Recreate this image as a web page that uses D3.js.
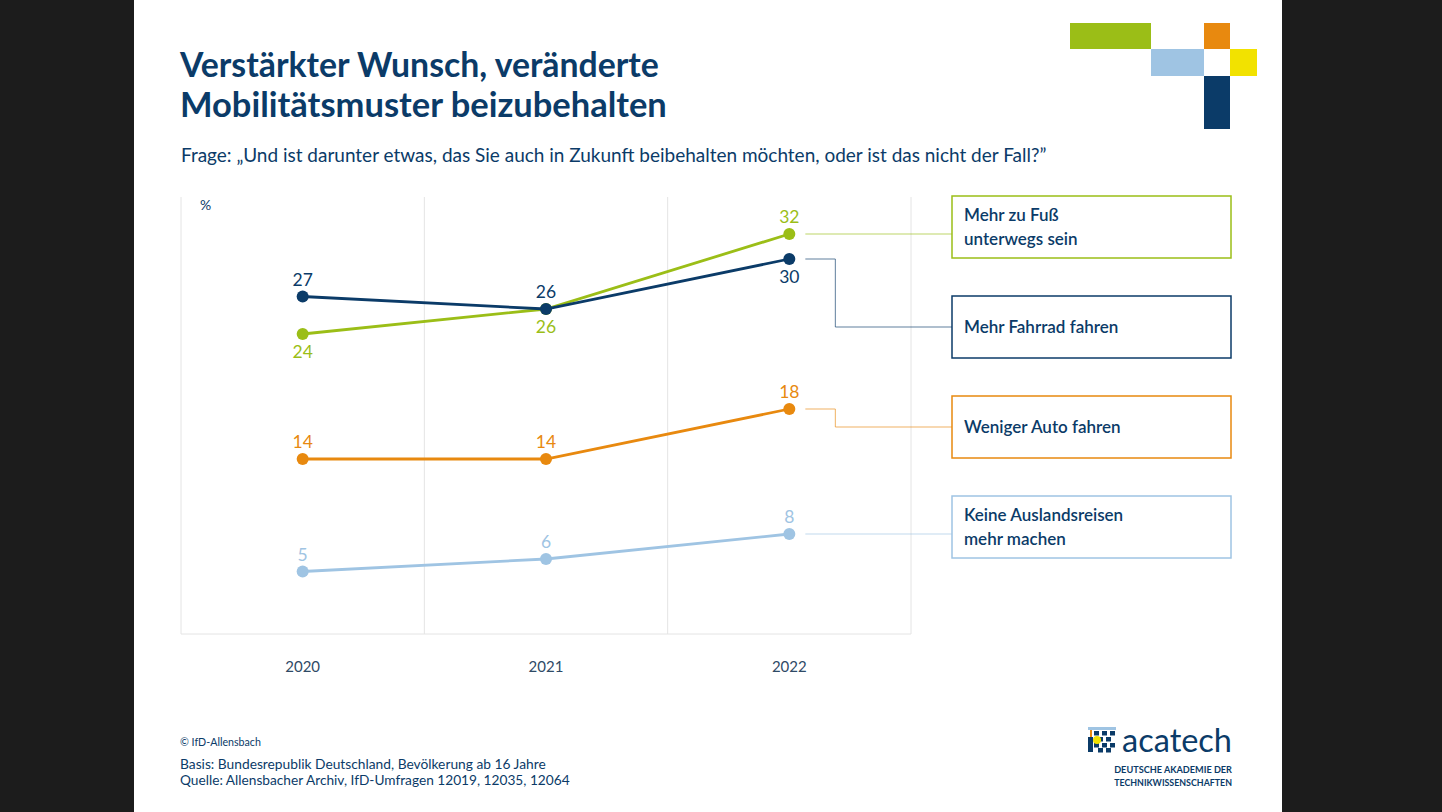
<!DOCTYPE html>
<html>
<head>
<meta charset="utf-8">
<script src="https://cdn.jsdelivr.net/npm/d3@7"></script>
<style>
    body { margin: 0; background: #1c1c1c; }
    svg { display: block; }
    text { font-family: Lato, "Open Sans", sans-serif; }
</style>
</head>
<body>
<svg id="chart" width="1442" height="812"></svg>
<script>
// Daten (IfD-Allensbach, Anteil in %)
var years = ['2020', '2021', '2022'];
var seriesNames = ['Mehr zu Fuß|unterwegs sein', 'Mehr Fahrrad fahren', 'Weniger Auto fahren', 'Keine Auslandsreisen|mehr machen'];
var fussValues = [24, 26, 32];
var fahrradValues = [27, 26, 30];
var autoValues = [14, 14, 18];
var auslandValues = [5, 6, 8];
var seriesColors = ['#9bbe17', '#0b3b68', '#e8890f', '#9fc4e3'];
var yDomain = [0, 35];

var navy = '#0b3b68';
var svg = d3.select('#chart');

// weisse Seite
svg.append('rect').attr('x', 134).attr('y', 0).attr('width', 1148).attr('height', 812).attr('fill', '#fff');

// Logo oben rechts
var logo = svg.append('g');
logo.append('rect').attr('x', 1070).attr('y', 23).attr('width', 81).attr('height', 26).attr('fill', '#9bbe17');
logo.append('rect').attr('x', 1151).attr('y', 49).attr('width', 53).attr('height', 27).attr('fill', '#9fc4e3');
logo.append('rect').attr('x', 1204).attr('y', 23).attr('width', 26).attr('height', 26).attr('fill', '#e8890f');
logo.append('rect').attr('x', 1230).attr('y', 49).attr('width', 27).attr('height', 27).attr('fill', '#f2e200');
logo.append('rect').attr('x', 1204).attr('y', 76).attr('width', 26).attr('height', 53).attr('fill', navy);

// Titel
function fitWidth(sel, w) {
    var len = sel.node().getComputedTextLength();
    var fs = parseFloat(sel.attr('font-size'));
    sel.attr('font-size', fs * w / len);
}

var t1 = svg.append('text').attr('x', 180).attr('y', 77).attr('font-size', 34).attr('font-weight', 700)
    .attr('fill', navy).text('Verstärkter Wunsch, veränderte');
fitWidth(t1, 479);
var t2 = svg.append('text').attr('x', 180).attr('y', 117).attr('font-size', 34).attr('font-weight', 700)
    .attr('fill', navy).text('Mobilitätsmuster beizubehalten');
fitWidth(t2, 487);
var sub = svg.append('text').attr('x', 181).attr('y', 162).attr('font-size', 18).attr('fill', navy)
    .text('Frage: „Und ist darunter etwas, das Sie auch in Zukunft beibehalten möchten, oder ist das nicht der Fall?”');
fitWidth(sub, 866);

// Skalen
var x = d3.scaleBand().domain(years).range([181, 911]);
var y = d3.scaleLinear().domain(yDomain).range([634, 196.5]);
var cx = function(d) { return x(d) + x.bandwidth() / 2; };

// Gitter
var grid = svg.append('g').attr('stroke', '#e4e4e4').attr('stroke-width', 1);
years.concat(['end']).forEach(function(yr, i) {
    var gx = i < years.length ? x(yr) : x.range()[1];
    grid.append('line').attr('x1', gx).attr('x2', gx).attr('y1', 197).attr('y2', y(0));
});
grid.append('line').attr('x1', 181).attr('x2', 911).attr('y1', y(0)).attr('y2', y(0));

svg.append('text').attr('x', 200).attr('y', 210).attr('font-size', 14).attr('fill', navy).text('%');

svg.selectAll('.year').data(years).enter().append('text')
    .attr('x', cx).attr('y', 672).attr('text-anchor', 'middle')
    .attr('font-size', 15).attr('fill', '#2f4a66').text(function(d) { return d; });

// Linien
var allValues = [fussValues, fahrradValues, autoValues, auslandValues];
var line = d3.line().x(function(d, i) { return cx(years[i]); }).y(function(d) { return y(d); });

// Legendenboxen
var boxX = 952, boxW = 279, boxH = 62;
var boxTop = function(i) { return 196 + i * 100; };

allValues.forEach(function(vals, s) {
    var col = seriesColors[s];
    var g = svg.append('g');

    // Verbinder zur Box
    var last = vals.length - 1;
    var px = cx(years[last]) + 16, py = y(vals[last]);
    var mid = boxTop(s) + boxH / 2;
    var path = Math.abs(py - mid) < 10 ?
        'M' + px + ',' + py + 'H' + boxX :
        'M' + px + ',' + py + 'H' + (px + 30) + 'V' + mid + 'H' + boxX;
    g.append('path').attr('d', path).attr('fill', 'none').attr('stroke', col)
        .attr('stroke-width', 1).attr('stroke-opacity', 0.65);

    g.append('path').datum(vals).attr('d', line).attr('fill', 'none')
        .attr('stroke', col).attr('stroke-width', 2.8);

    g.selectAll('circle').data(vals).enter().append('circle')
        .attr('cx', function(d, i) { return cx(years[i]); })
        .attr('cy', function(d) { return y(d); })
        .attr('r', 6).attr('fill', col);

    // Werte: unter dem Punkt, wenn eine nahe Reihe darueber liegt
    g.selectAll('text').data(vals).enter().append('text')
        .attr('x', function(d, i) { return cx(years[i]); })
        .attr('y', function(d, i) {
            var below = allValues.some(function(o, k) {
                return k !== s && Math.abs(o[i] - d) <= 4 && (o[i] > d || (o[i] === d && k > s));
            });
            return below ? y(d) + 24 : y(d) - 11;
        })
        .attr('text-anchor', 'middle').attr('font-size', 17.5).attr('fill', col)
        .text(function(d) { return d; });

    // Box
    svg.append('rect').attr('x', boxX).attr('y', boxTop(s)).attr('width', boxW).attr('height', boxH)
        .attr('fill', '#fff').attr('stroke', col).attr('stroke-width', 1.5);
    var lines = seriesNames[s].split('|');
    lines.forEach(function(l, j) {
        svg.append('text').attr('x', 964)
            .attr('y', mid + 6 + (j - (lines.length - 1) / 2) * 23.5)
            .attr('font-size', 17).attr('font-weight', 600).attr('fill', navy).text(l);
    });
});

// Fusszeile
var f1 = svg.append('text').attr('x', 180).attr('y', 746).attr('font-size', 12).attr('fill', navy).text('© IfD-Allensbach');
fitWidth(f1, 81);
var f2 = svg.append('text').attr('x', 180).attr('y', 769).attr('font-size', 15).attr('fill', navy)
    .text('Basis: Bundesrepublik Deutschland, Bevölkerung ab 16 Jahre');
fitWidth(f2, 366);
var f3 = svg.append('text').attr('x', 180).attr('y', 785).attr('font-size', 15).attr('fill', navy)
    .text('Quelle: Allensbacher Archiv, IfD-Umfragen 12019, 12035, 12064');
fitWidth(f3, 390);

// acatech Logo
var ic = svg.append('g').attr('transform', 'translate(1088,727)');
ic.append('rect').attr('x', 0).attr('y', 0).attr('width', 28).attr('height', 3).attr('fill', '#9fc4e3');
ic.append('rect').attr('x', 2).attr('y', 3).attr('width', 2).attr('height', 22).attr('fill', '#e8890f');
[[6, 4], [14, 4], [22, 4], [10, 10], [18, 10], [6, 16], [14, 16], [22, 16], [10, 21], [18, 21]].forEach(function(p) {
    ic.append('rect').attr('x', p[0]).attr('y', p[1]).attr('width', 5).attr('height', 4.5).attr('fill', navy);
});
ic.append('rect').attr('x', 0).attr('y', 10).attr('width', 5).attr('height', 15).attr('fill', navy);
ic.append('circle').attr('cx', 9).attr('cy', 13).attr('r', 4).attr('fill', '#f2e200');

var ac = svg.append('text').attr('x', 1232).attr('y', 752).attr('text-anchor', 'end').attr('font-size', 34)
    .attr('fill', navy).text('acatech');
fitWidth(ac, 110);
var d1 = svg.append('text').attr('x', 1232).attr('y', 773).attr('text-anchor', 'end').attr('font-size', 10)
    .attr('font-weight', 700).attr('fill', navy).text('DEUTSCHE AKADEMIE DER');
fitWidth(d1, 118);
var d2 = svg.append('text').attr('x', 1232).attr('y', 786).attr('text-anchor', 'end').attr('font-size', 10)
    .attr('font-weight', 700).attr('fill', navy).text('TECHNIKWISSENSCHAFTEN');
fitWidth(d2, 118);
</script>
</body>
</html>
